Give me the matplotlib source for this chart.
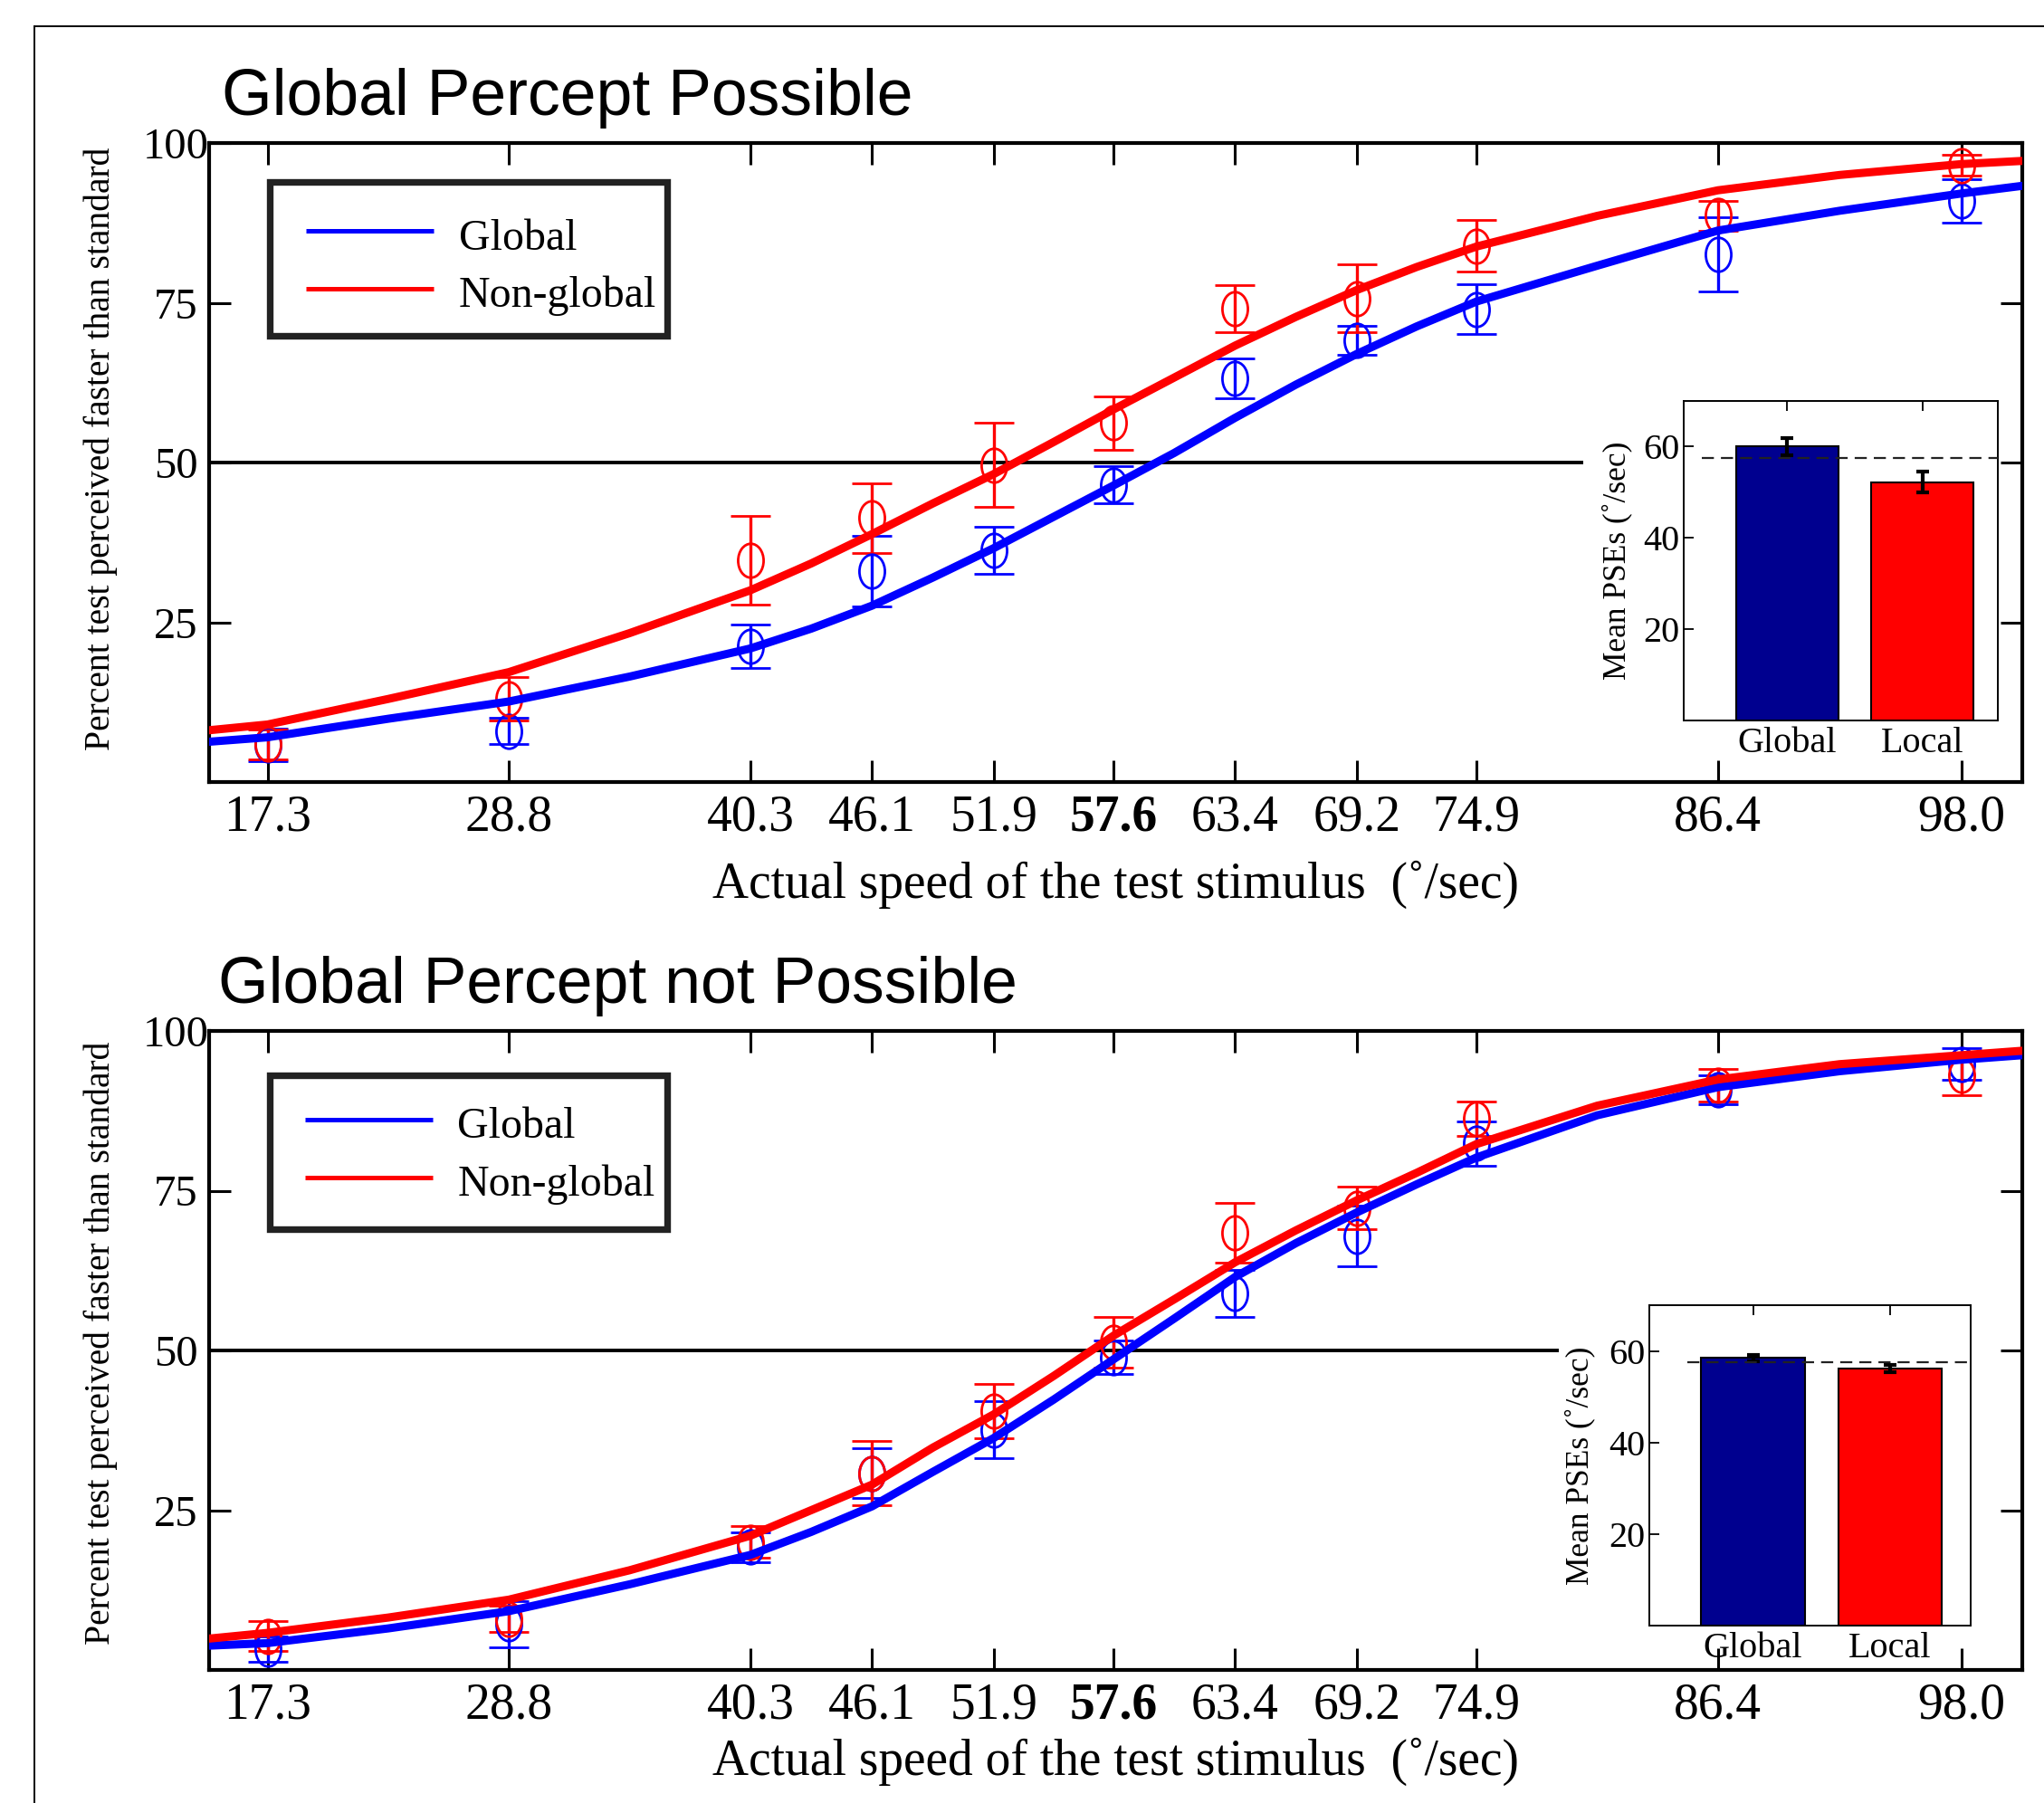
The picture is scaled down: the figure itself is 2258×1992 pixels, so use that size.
import matplotlib

matplotlib.use("Agg")
import matplotlib.pyplot as plt
from matplotlib.lines import Line2D
from matplotlib.patches import Rectangle
from matplotlib.path import Path

plt.rcParams["font.family"] = ["Liberation Serif", "DejaVu Serif"]

W, H = 2258, 1992
BLUE = "#0000ff"
RED = "#ff0000"
NAVY = "#00008f"

# test speeds (deg/sec)
SPEEDS = [17.3, 28.8, 40.3, 46.1, 51.9, 57.6, 63.4, 69.2, 74.9, 86.4, 98.0]

# speeds at which the fitted curves were read
CURVE_X = [14.5, 17.3, 23.05, 28.8, 34.55, 40.3, 43.2, 46.1, 49.0, 51.9, 54.75,
           57.6, 60.5, 63.4, 66.3, 69.2, 72.05, 74.9, 80.65, 86.4, 92.2, 98.0, 100.9]

# --- Global percept possible
top_global_mean = [5.8, 8.0, 21.2, 33.0, 36.3, 46.5, 63.2, 69.1, 74.0, 82.6, 90.9]
top_global_err = [2.5, 2.1, 3.4, 5.5, 3.7, 2.9, 3.1, 2.3, 3.9, 5.8, 3.4]
top_local_mean = [5.9, 13.0, 34.7, 41.3, 49.6, 56.2, 74.1, 75.7, 83.9, 88.6, 96.5]
top_local_err = [2.3, 3.4, 6.9, 5.5, 6.6, 4.2, 3.7, 5.3, 4.0, 2.4, 1.6]
top_global_fit = [6.3, 7.0, 9.9, 12.6, 16.5, 20.9, 24.0, 27.6, 32.0, 36.6, 41.5,
                  46.4, 51.5, 57.0, 62.2, 67.0, 71.3, 75.2, 80.8, 86.3, 89.4, 92.1, 93.3]
top_local_fit = [8.1, 9.0, 13.0, 17.2, 23.3, 30.0, 34.2, 38.8, 43.6, 48.2, 53.2,
                 58.3, 63.3, 68.3, 72.8, 77.0, 80.6, 83.8, 88.6, 92.6, 95.0, 96.7, 97.2]
top_pse = [60.0, 52.2]
top_pse_err = [1.9, 2.3]

# --- Global percept not possible
bot_global_mean = [3.3, 7.2, 19.2, 30.8, 37.6, 48.9, 58.9, 67.9, 82.4, 90.8, 94.8]
bot_global_err = [2.0, 3.6, 2.4, 3.9, 4.5, 2.6, 3.7, 4.7, 3.5, 2.3, 2.5]
bot_local_mean = [5.3, 8.0, 20.0, 30.8, 40.5, 51.3, 68.4, 72.3, 86.3, 91.5, 93.0]
bot_local_err = [2.3, 2.1, 2.5, 5.0, 4.3, 4.0, 4.7, 3.3, 2.7, 2.6, 3.0]
bot_global_fit = [3.8, 4.2, 6.5, 9.2, 13.4, 18.0, 21.6, 25.6, 31.0, 36.3, 42.3,
                  48.6, 55.0, 61.5, 66.8, 71.6, 76.0, 80.2, 86.8, 91.2, 93.7, 95.5, 96.2]
bot_local_fit = [4.9, 5.8, 8.2, 11.0, 15.6, 21.0, 25.0, 29.0, 34.8, 40.0, 46.0,
                 52.3, 58.0, 63.8, 68.8, 73.5, 77.8, 82.3, 88.3, 92.4, 94.8, 96.2, 96.9]
bot_pse = [58.5, 56.2]
bot_pse_err = [0.7, 0.8]

STANDARD = 57.6
BAR_LABELS = ["Global", "Local"]
LEGEND_LABELS = ["Global", "Non-global"]

# open markers are drawn slightly taller than wide
_circ = Path.unit_circle()
ELLIPSE = Path(_circ.vertices * [0.75, 1.0], _circ.codes)


def px_rect(left, top, right, bottom):
    return [left / W, 1 - bottom / H, (right - left) / W, (bottom - top) / H]


def draw_panel(fig, box, inset_box, title, title_xy, g_mean, g_err, l_mean, l_err,
               g_fit, l_fit, pse, pse_err, line_end, inset_xlim, dash_start,
               leg_box, leg_anchor, xlabel_y, ylabel_y, inset_ylab_x):
    ax = fig.add_axes(px_rect(*box))

    ax.hlines(50, 14.5, line_end, color="black", lw=2.8, zorder=1.5)

    for mean, err, fit, color in [(g_mean, g_err, g_fit, BLUE), (l_mean, l_err, l_fit, RED)]:
        ax.errorbar(SPEEDS, mean, yerr=err, marker=ELLIPSE, ms=27, mfc="none", mec=color,
                    mew=2.0, linestyle="none", ecolor=color, elinewidth=2.4,
                    capsize=15.5, capthick=2.8, zorder=2)
        ax.plot(CURVE_X, fit, color=color, lw=6.5, zorder=3)

    ax.set_xlim(14.5, 100.9)
    ax.set_ylim(0, 100)
    ax.set_xticks(SPEEDS)
    ax.set_xticklabels([f"{v:.1f}" for v in SPEEDS])
    ax.get_xticklabels()[SPEEDS.index(57.6)].set_fontweight("bold")
    ax.set_yticks([25, 50, 75, 100])
    ax.tick_params(direction="in", top=True, right=True, length=17, width=2.2)
    ax.tick_params(axis="x", labelsize=40, pad=10)
    ax.tick_params(axis="y", labelsize=35, pad=26)
    plt.setp(ax.get_yticklabels(), ha="center")
    for sp in ax.spines.values():
        sp.set_linewidth(3)

    ax.set_xlabel("Actual speed of the test stimulus  (˚/sec)", fontsize=40)
    ax.xaxis.set_label_coords(0.5, xlabel_y)
    ax.set_ylabel("Percent test perceived faster than standard", fontsize=28.5)
    ax.yaxis.set_label_coords(-0.050, ylabel_y)

    # legend box drawn as its own frame, entries placed inside it
    ax.add_patch(Rectangle(leg_box[:2], *leg_box[2:], transform=ax.transAxes,
                           facecolor="white", edgecolor="#222222", lw=5.3,
                           zorder=4.5, clip_on=False))
    handles = [Line2D([], [], color=BLUE, lw=3.6, solid_capstyle="butt"),
               Line2D([], [], color=RED, lw=3.6, solid_capstyle="butt")]
    ax.legend(handles, LEGEND_LABELS, loc="center left", bbox_to_anchor=leg_anchor,
              borderaxespad=0, borderpad=0, frameon=False, fontsize=34.5,
              handlelength=2.94, handleheight=1.18, handletextpad=0.58,
              labelspacing=0.28)

    fig.text(title_xy[0] / W, 1 - title_xy[1] / H, title, fontsize=51.5,
             family="Liberation Sans", va="baseline", ha="left")

    # inset: mean PSEs
    iax = fig.add_axes(px_rect(*inset_box))
    iax.bar([0, 1], pse, width=0.755, color=[NAVY, RED], edgecolor="black", lw=1.5,
            yerr=pse_err, error_kw=dict(ecolor="black", elinewidth=3, capsize=5, capthick=3))
    iax.hlines(STANDARD, dash_start, inset_xlim[1], colors="#222222",
               linestyles=(0, (6, 3.5)), lw=1.6, zorder=3)
    iax.set_xlim(*inset_xlim)
    iax.set_ylim(0, 70)
    iax.set_yticks([20, 40, 60])
    iax.set_xticks([0, 1])
    iax.set_xticklabels(BAR_LABELS)
    iax.tick_params(direction="in", top=True, bottom=False, right=False,
                    length=8, width=1.3, labelsize=29)
    iax.tick_params(axis="y", pad=3)
    iax.tick_params(axis="x", pad=5)
    for sp in iax.spines.values():
        sp.set_linewidth(1.4)
    iax.set_ylabel("Mean PSEs (˚/sec)", fontsize=25.5)
    iax.yaxis.set_label_coords(inset_ylab_x, 0.5)
    return ax, iax


fig = plt.figure(figsize=(W / 100, H / 100), dpi=100)

draw_panel(fig, (230.6, 158, 2234, 864), (1860, 443, 2207, 796),
           "Global Percept Possible", (245, 127.5),
           top_global_mean, top_global_err, top_local_mean, top_local_err,
           top_global_fit, top_local_fit, top_pse, top_pse_err,
           80.0, (-0.763, 1.555), -0.63, (0.0334, 0.6976, 0.2194, 0.2415),
           (0.0536, 0.8098), -0.123, 0.521, -0.164)

draw_panel(fig, (230.6, 1139, 2234, 1845), (1822, 1442, 2177, 1796),
           "Global Percept not Possible", (241, 1107.6),
           bot_global_mean, bot_global_err, bot_local_mean, bot_local_err,
           bot_global_fit, bot_local_fit, bot_pse, bot_pse_err,
           78.8, (-0.757, 1.59), -0.48, (0.0334, 0.6902, 0.2194, 0.2400),
           (0.053, 0.8086), -0.106, 0.511, -0.169)

# outer frame (left and top edges visible)
fx, fy = 37.5 / W, 1 - 28.7 / H
fig.add_artist(Line2D([fx, fx], [0, fy], transform=fig.transFigure, color="black", lw=1.4))
fig.add_artist(Line2D([fx, 1], [fy, fy], transform=fig.transFigure, color="black", lw=1.4))

fig.savefig("out.png", dpi=100, facecolor="white")
